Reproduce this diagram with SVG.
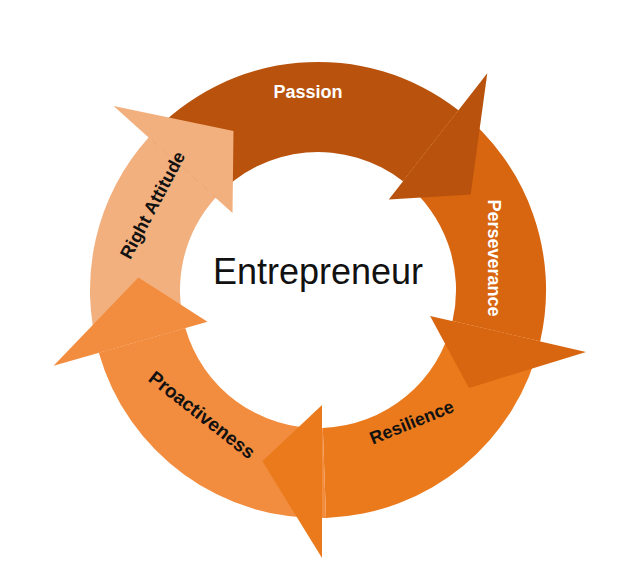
<svg xmlns="http://www.w3.org/2000/svg" width="623" height="574" viewBox="0 0 623 574">
<style>
.l{font-family:"Liberation Sans",Arial,sans-serif;font-weight:bold;font-size:18px;text-anchor:middle}
.w{fill:#fff}.k{fill:#111}
</style>
<rect width="623" height="574" fill="#fff"/>
<g id="connectors">
<path id="passion-body" fill="#b8520c" d="M148.6,137.4 A228,228 0 0 1 458.4,110.3 L403,181.3 A138,138 0 0 0 215.5,197.7 Z"/>
<path id="perseverance-body" fill="#d8650f" d="M458.4,110.3 A228,228 0 0 1 540.2,341.3 L452.5,321.1 A138,138 0 0 0 403,181.3 Z"/>
<path id="resilience-body" fill="#ea7a1c" d="M540.2,341.3 A228,228 0 0 1 326,517.9 L322.8,427.9 A138,138 0 0 0 452.5,321.1 Z"/>
<path id="proactiveness-body" fill="#f28c3e" d="M326,517.9 A228,228 0 0 1 98.8,352.8 L185.3,328 A138,138 0 0 0 322.8,427.9 Z"/>
<path id="attitude-body" fill="#f2b07e" d="M98.8,352.8 A228,228 0 0 1 148.6,137.4 L215.5,197.7 A138,138 0 0 0 185.3,328 Z"/>
<polygon fill="#b8520c" points="487.3,73.3 470.6,194.6 388.8,199.4"/>
<polygon fill="#d8650f" points="586,351.9 469,388 430.1,315.9"/>
<polygon fill="#ea7a1c" points="322,558 262.4,461.2 322,404.9"/>
<polygon fill="#f28c3e" points="53.6,365.8 138.4,277.4 207.5,321.7"/>
<polygon fill="#f2b07e" points="113.6,106 233.5,131.1 232.5,213.1"/>
</g>
<g id="passion"><text class="l w" x="308" y="98">Passion</text></g>
<g id="perseverance"><text class="l w" transform="translate(488,258) rotate(90)">Perseverance</text></g>
<g id="resilience"><text class="l k" transform="translate(414,428) rotate(-22)">Resilience</text></g>
<g id="proactiveness"><text class="l k" style="font-size:19px" transform="translate(198,420) rotate(38)">Proactiveness</text></g>
<g id="attitude"><text class="l k" transform="translate(158,208) rotate(-62)">Right Attitude</text></g>
<g id="center"><text x="318" y="284" style="font-family:'Liberation Sans',Arial,sans-serif;font-size:36px;text-anchor:middle" fill="#111">Entrepreneur</text></g>
</svg>
